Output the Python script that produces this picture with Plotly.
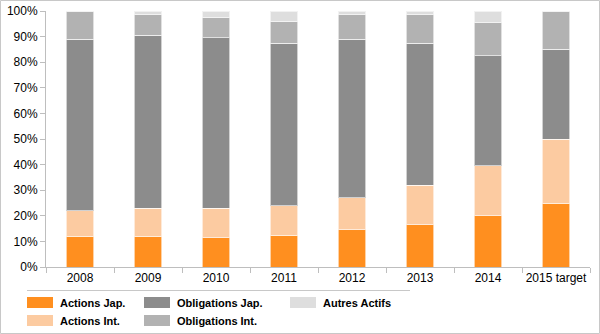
import plotly.graph_objects as go

categories = ["2008", "2009", "2010", "2011", "2012", "2013", "2014", "2015 target"]
actions_jap = [12, 12, 11.5, 12.5, 14.5, 16.5, 20, 25]
actions_int = [10, 11, 11.5, 11.5, 12.5, 15.5, 19.5, 25]
obligations_jap = [67, 67.5, 66.5, 63.5, 62, 55.5, 43, 35]
obligations_int = [11, 8, 8, 8.5, 9.5, 11, 13, 15]
autres_actifs = [0, 1.5, 2.5, 4, 1.5, 1.5, 4.5, 0]

series = [
    ("Actions Jap.", actions_jap, "#FF8F1F"),
    ("Actions Int.", actions_int, "#FCCBA1"),
    ("Obligations Jap.", obligations_jap, "#8C8C8C"),
    ("Obligations Int.", obligations_int, "#B2B2B2"),
    ("Autres Actifs", autres_actifs, "#DEDEDE"),
]

W, H = 600, 334
ML, MR, MT, MB = 46, 10, 11, 67
PW, PH = W - ML - MR, H - MT - MB

def px(x):
    return (x - ML) / PW

def py(y):
    return (H - MB - y) / PH

fig = go.Figure()
for name, vals, col in series:
    fig.add_trace(go.Bar(
        x=categories, y=vals, name=name, showlegend=False,
        marker=dict(color=col, line=dict(color="rgba(255,255,255,0.6)", width=1)),
    ))

font = "Liberation Sans, Arial, sans-serif"
shapes = []
annotations = []
# legend layout: column-major, 2 rows
legend_pos = {
    "Actions Jap.": (27, 297),
    "Actions Int.": (27, 315),
    "Obligations Jap.": (144, 297),
    "Obligations Int.": (144, 315),
    "Autres Actifs": (290, 297),
}
for name, vals, col in series:
    x0, y0 = legend_pos[name]
    shapes.append(dict(type="rect", xref="paper", yref="paper",
                       x0=px(x0), x1=px(x0 + 26), y0=py(y0), y1=py(y0 + 11),
                       fillcolor=col, line=dict(width=0)))
    annotations.append(dict(xref="paper", yref="paper", x=px(x0 + 31), y=py(y0 + 5.5),
                            text="<b>" + name + "</b>", showarrow=False,
                            xanchor="left", yanchor="middle",
                            font=dict(family=font, size=11, color="#000000")))
# separator line above legend
shapes.append(dict(type="line", xref="paper", yref="paper",
                   x0=px(27), x1=px(410), y0=py(290.5), y1=py(290.5),
                   line=dict(color="#C8C8C8", width=1)))
# outer border
shapes.append(dict(type="rect", xref="paper", yref="paper",
                   x0=px(0.5), x1=px(W - 0.5), y0=py(0.5), y1=py(H - 0.5),
                   line=dict(color="#C8C8C8", width=1), fillcolor="rgba(0,0,0,0)"))

fig.update_layout(
    width=W, height=H, barmode="stack", bargap=0.6,
    margin=dict(l=ML, r=MR, t=MT, b=MB, autoexpand=False),
    paper_bgcolor="white", plot_bgcolor="white",
    font=dict(family=font, size=12, color="#000000"),
    shapes=shapes, annotations=annotations,
    xaxis=dict(showgrid=False, showline=True, linecolor="#BEBEBE", linewidth=1,
               ticks="outside", tickson="boundaries", ticklen=5, tickcolor="#BEBEBE",
               tickfont=dict(size=12), tickangle=0, automargin=False, fixedrange=True),
    yaxis=dict(range=[0, 100], dtick=10, ticksuffix="%", showgrid=False,
               showline=True, linecolor="#BEBEBE", linewidth=1, zeroline=False,
               ticks="outside", ticklen=5, tickcolor="#BEBEBE",
               tickfont=dict(size=12), automargin=False, fixedrange=True),
)

fig.write_html("out.html")
